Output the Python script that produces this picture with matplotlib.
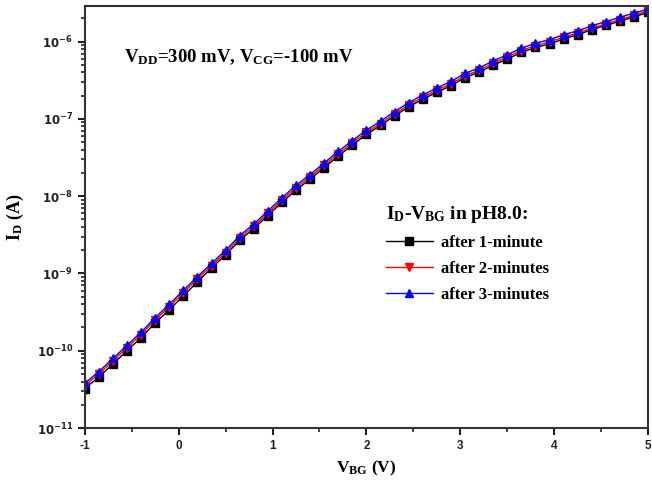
import numpy as np
import matplotlib
matplotlib.use("Agg")
import matplotlib.pyplot as plt
from matplotlib.ticker import LogLocator, FixedLocator, NullFormatter

plt.rcParams['font.family'] = ['Liberation Serif', 'DejaVu Serif']
plt.rcParams['font.weight'] = 'bold'
plt.rcParams['axes.labelweight'] = 'bold'
plt.rcParams['mathtext.fontset'] = 'custom'
plt.rcParams['mathtext.rm'] = 'Liberation Serif:bold'
plt.rcParams['mathtext.it'] = 'Liberation Serif:bold'
plt.rcParams['mathtext.bf'] = 'Liberation Serif:bold'

# gate voltage (V), 0.15 V steps
v_bg = [-1.00, -0.85, -0.70, -0.55, -0.40, -0.25, -0.10, 0.05, 0.20, 0.35,
        0.50, 0.65, 0.80, 0.95, 1.10, 1.25, 1.40, 1.55, 1.70, 1.85,
        2.00, 2.15, 2.30, 2.45, 2.60, 2.75, 2.90, 3.05, 3.20, 3.35,
        3.50, 3.65, 3.80, 3.95, 4.10, 4.25, 4.40, 4.55, 4.70, 4.85, 5.00]

# log10 of drain current (A)
log_id_1min = [-10.49, -10.34, -10.17, -10.00, -9.83, -9.64, -9.47, -9.29, -9.11, -8.93,
               -8.76, -8.57, -8.42, -8.25, -8.08, -7.92, -7.78, -7.63, -7.48, -7.34,
               -7.20, -7.085, -6.96, -6.845, -6.745, -6.655, -6.57, -6.465, -6.395, -6.305,
               -6.225, -6.14, -6.075, -6.03, -5.965, -5.91, -5.845, -5.79, -5.735, -5.68, -5.62]
log_id_2min = [-10.45, -10.30, -10.13, -9.96, -9.79, -9.60, -9.43, -9.25, -9.07, -8.90,
               -8.73, -8.54, -8.39, -8.22, -8.05, -7.89, -7.75, -7.60, -7.45, -7.31,
               -7.175, -7.06, -6.935, -6.82, -6.72, -6.63, -6.545, -6.44, -6.37, -6.28,
               -6.20, -6.115, -6.05, -6.005, -5.94, -5.89, -5.825, -5.77, -5.715, -5.66, -5.60]
log_id_3min = [-10.42, -10.27, -10.10, -9.93, -9.76, -9.57, -9.40, -9.22, -9.04, -8.87,
               -8.70, -8.51, -8.36, -8.19, -8.02, -7.86, -7.72, -7.57, -7.42, -7.28,
               -7.145, -7.03, -6.905, -6.79, -6.69, -6.60, -6.515, -6.41, -6.34, -6.25,
               -6.17, -6.085, -6.02, -5.975, -5.91, -5.86, -5.795, -5.74, -5.685, -5.63, -5.58]

series = [
    (log_id_1min, 'black', 's', 'after 1-minute'),
    (log_id_2min, 'red', 'v', 'after 2-minutes'),
    (log_id_3min, 'blue', '^', 'after 3-minutes'),
]

fig = plt.figure(figsize=(6.52, 4.92), dpi=100)
ax = fig.add_axes([0.130, 0.130, 0.864, 0.858])

for vals, col, mk, lab in series:
    ax.plot(v_bg, 10.0 ** np.array(vals), color=col, marker=mk, markersize=6,
            linewidth=1.0, label=lab)

ax.set_yscale('log')
ax.set_xlim(-1, 5)
ax.set_ylim(1e-11, 2.9e-6)

ax.xaxis.set_major_locator(FixedLocator([-1, 0, 1, 2, 3, 4, 5]))
ax.xaxis.set_minor_locator(FixedLocator([-0.5, 0.5, 1.5, 2.5, 3.5, 4.5]))
ax.yaxis.set_major_locator(LogLocator(base=10, numticks=10))
ax.yaxis.set_minor_locator(LogLocator(base=10, subs=np.arange(2, 10), numticks=10))
ax.yaxis.set_minor_formatter(NullFormatter())

ax.set_xticks([-1, 0, 1, 2, 3, 4, 5])
ax.set_xticklabels(['-1', '0', '1', '2', '3', '4', '5'],
                   family='Liberation Sans', fontweight='bold', fontsize=8.5)
yt = [1e-11, 1e-10, 1e-9, 1e-8, 1e-7, 1e-6]
ax.set_yticks(yt)
ax.set_yticklabels([r'$\mathbf{10^{%d}}$' % int(np.log10(t)) for t in yt],
                   fontsize=8.5, math_fontfamily='dejavusans')

ax.tick_params(which='major', direction='out', length=5, width=1.5, colors='#222222')
ax.tick_params(which='minor', direction='out', length=3, width=1.2, colors='#222222')
for sp in ax.spines.values():
    sp.set_linewidth(1.5)
    sp.set_color('#333333')

ax.set_xlabel(r'V$_{\mathrm{BG}}$ (V)', fontsize=12.5, fontweight='bold', labelpad=5)
ax.set_ylabel(r'I$_{\mathrm{D}}$ (A)', fontsize=13, fontweight='bold', labelpad=8)

ax.text(0.07, 0.878, r'V$_{\mathrm{DD}}$=300 mV, V$_{\mathrm{CG}}$=-100 mV',
        transform=ax.transAxes, fontsize=13.5, va='center')

leg = ax.legend(loc='upper left', bbox_to_anchor=(0.535, 0.53), frameon=False,
                title=r'I$_{\mathrm{D}}$-V$_{\mathrm{BG}}$ in pH8.0:',
                fontsize=12, handlelength=2.8, labelspacing=0.6,
                borderaxespad=0, handletextpad=0.5, borderpad=0)
leg.get_title().set_fontsize(14)
leg._legend_box.align = 'left'

fig.savefig('out.png', dpi=100)
